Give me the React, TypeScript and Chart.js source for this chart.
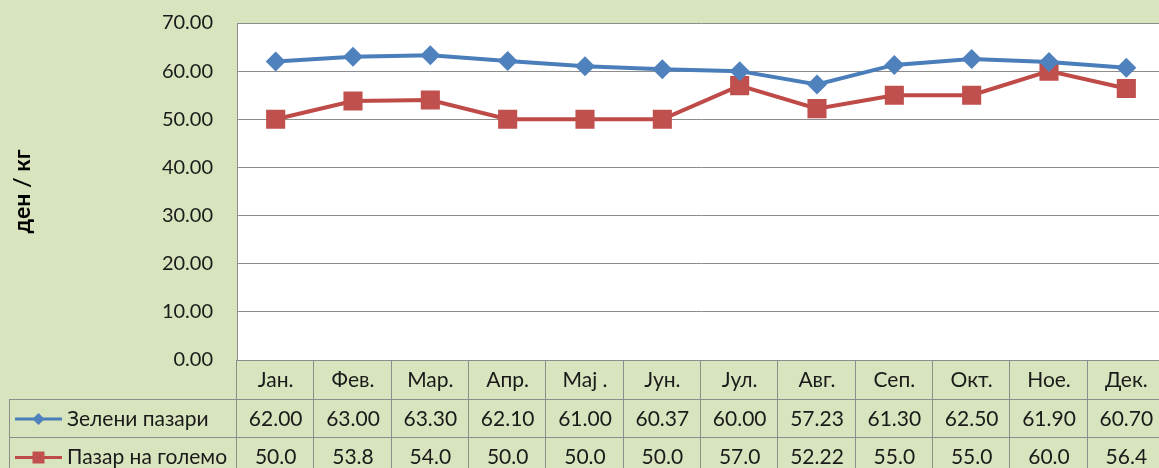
import React, { useEffect, useRef } from 'react';
import { Chart, registerables } from 'chart.js';

Chart.register(...registerables);

const months = ['Јан.', 'Фев.', 'Мар.', 'Апр.', 'Мај .', 'Јун.', 'Јул.', 'Авг.', 'Сеп.', 'Окт.', 'Ное.', 'Дек.'];
const greenMarkets = [62.0, 63.0, 63.3, 62.1, 61.0, 60.37, 60.0, 57.23, 61.3, 62.5, 61.9, 60.7];
const wholesaleMarket = [50.0, 53.8, 54.0, 50.0, 50.0, 50.0, 57.0, 52.22, 55.0, 55.0, 60.0, 56.4];
const seriesNames = ['Зелени пазари', 'Пазар на големо'];
const yAxisTitle = 'ден / кг';
const yMin = 0;
const yMax = 70;
const yStep = 10;

const FONT = 'Lato, "Liberation Sans", sans-serif';
const BG = '#D7E4BD';
const GRID = '#8C8C8C';
const BLUE_LINE = '#4A7EBB';
const BLUE_FILL = '#4F81BD';
const RED_LINE = '#BE4B48';
const RED_FILL = '#C0504D';
const TEXT = '#1A1A1A';

const fmtGreen = (v: number) => v.toFixed(2);
const fmtWholesale = (v: number) => (Math.abs(v * 10 - Math.round(v * 10)) < 1e-6 ? v.toFixed(1) : v.toFixed(2));

const tablePlugin = {
  id: 'tablePlugin',
  beforeDraw(chart: any) {
    const { ctx, chartArea, width, height } = chart;
    ctx.save();
    ctx.fillStyle = BG;
    ctx.fillRect(0, 0, width, height);
    ctx.fillStyle = '#FFFFFF';
    ctx.fillRect(chartArea.left, chartArea.top, chartArea.right - chartArea.left, chartArea.bottom - chartArea.top);
    ctx.restore();
  },
  afterDraw(chart: any) {
    const { ctx, chartArea } = chart;
    const left = chartArea.left;
    const right = chartArea.right;
    const colW = (right - left) / months.length;
    const r0 = Math.round(chartArea.bottom);
    const r1 = 399;
    const r2 = 437;
    const r3 = 476;
    const tableLeft = 9;
    ctx.save();
    ctx.strokeStyle = GRID;
    ctx.lineWidth = 1;
    const hline = (x1: number, x2: number, y: number) => {
      ctx.beginPath();
      ctx.moveTo(x1, y + 0.5);
      ctx.lineTo(x2, y + 0.5);
      ctx.stroke();
    };
    const vline = (x: number, y1: number, y2: number) => {
      ctx.beginPath();
      ctx.moveTo(Math.round(x) + 0.5, y1);
      ctx.lineTo(Math.round(x) + 0.5, y2);
      ctx.stroke();
    };
    hline(left, right, r0);
    hline(tableLeft, right, r1);
    hline(tableLeft, right, r2);
    for (let i = 0; i <= months.length; i++) vline(left + i * colW - 1, r0, r3);
    vline(tableLeft, r1, r3);

    ctx.fillStyle = TEXT;
    ctx.font = `21px ${FONT}`;
    ctx.textAlign = 'center';
    ctx.textBaseline = 'middle';
    const x = chart.scales.x;
    months.forEach((m, i) => {
      const cx = x.getPixelForValue(i);
      ctx.fillText(m, cx, (r0 + r1) / 2 + 1);
      ctx.fillText(fmtGreen(greenMarkets[i]), cx, (r1 + r2) / 2 + 1);
      ctx.fillText(fmtWholesale(wholesaleMarket[i]), cx, (r2 + r3) / 2 + 1);
    });

    // legend keys
    const keyX1 = 15;
    const keyX2 = 62;
    const drawKey = (y: number, color: string, fill: string, shape: 'diamond' | 'square') => {
      ctx.strokeStyle = color;
      ctx.lineWidth = 3;
      ctx.beginPath();
      ctx.moveTo(keyX1, y);
      ctx.lineTo(keyX2, y);
      ctx.stroke();
      const cx = (keyX1 + keyX2) / 2;
      ctx.fillStyle = fill;
      ctx.beginPath();
      if (shape === 'diamond') {
        ctx.moveTo(cx, y - 6);
        ctx.lineTo(cx + 6, y);
        ctx.lineTo(cx, y + 6);
        ctx.lineTo(cx - 6, y);
      } else {
        ctx.rect(cx - 6, y - 6, 12, 12);
      }
      ctx.closePath();
      ctx.fill();
    };
    const y1 = (r1 + r2) / 2 + 1;
    const y2 = (r2 + r3) / 2 + 1;
    drawKey(y1, BLUE_LINE, BLUE_FILL, 'diamond');
    drawKey(y2, RED_LINE, RED_FILL, 'square');
    ctx.fillStyle = TEXT;
    ctx.textAlign = 'left';
    ctx.fillText(seriesNames[0], 67, y1);
    ctx.fillText(seriesNames[1], 67, y2);
    ctx.restore();
  },
};

export default function App() {
  const ref = useRef<HTMLCanvasElement | null>(null);
  useEffect(() => {
    document.body.style.margin = '0';
    if (!ref.current) return;
    const chart = new Chart(ref.current, {
      type: 'line',
      data: {
        labels: months,
        datasets: [
          {
            label: seriesNames[0],
            data: greenMarkets,
            borderColor: BLUE_LINE,
            backgroundColor: BLUE_FILL,
            borderWidth: 4,
            pointStyle: 'rectRot',
            pointRadius: 10,
            pointBorderWidth: 0,
            pointBackgroundColor: BLUE_FILL,
            tension: 0,
          },
          {
            label: seriesNames[1],
            data: wholesaleMarket,
            borderColor: RED_LINE,
            backgroundColor: RED_FILL,
            borderWidth: 4,
            pointStyle: 'rect',
            pointRadius: 13.5,
            pointBorderWidth: 0,
            pointBackgroundColor: RED_FILL,
            tension: 0,
          },
        ],
      },
      options: {
        animation: false,
        responsive: false,
        devicePixelRatio: 1,
        layout: { autoPadding: false, padding: { top: 23, bottom: 108, left: 0, right: 0 } },
        plugins: {
          legend: { display: false },
          tooltip: { enabled: false },
        },
        scales: {
          x: {
            display: false,
            offset: true,
          },
          y: {
            min: yMin,
            max: yMax,
            ticks: {
              stepSize: yStep,
              padding: 24,
              color: TEXT,
              font: { family: FONT, size: 20 },
              callback: (v: any) => Number(v).toFixed(2),
            },
            grid: { color: GRID, drawTicks: false, lineWidth: 1 },
            border: { color: GRID, width: 1 },
            title: {
              display: true,
              text: yAxisTitle,
              color: '#000000',
              font: { family: FONT, size: 23, weight: 'bold' },
              padding: { top: 9, bottom: 0 },
            },
            afterFit: (scale: any) => {
              scale.width = 237;
              scale.paddingTop = 0;
              scale.paddingBottom = 0;
            },
          },
        },
      },
      plugins: [tablePlugin],
    });
    return () => chart.destroy();
  }, []);
  return (
    <div style={{ position: 'fixed', left: 0, top: 0, width: 1159, height: 468, overflow: 'hidden' }}>
      <canvas ref={ref} width={1165} height={468} style={{ display: 'block' }} />
    </div>
  );
}
